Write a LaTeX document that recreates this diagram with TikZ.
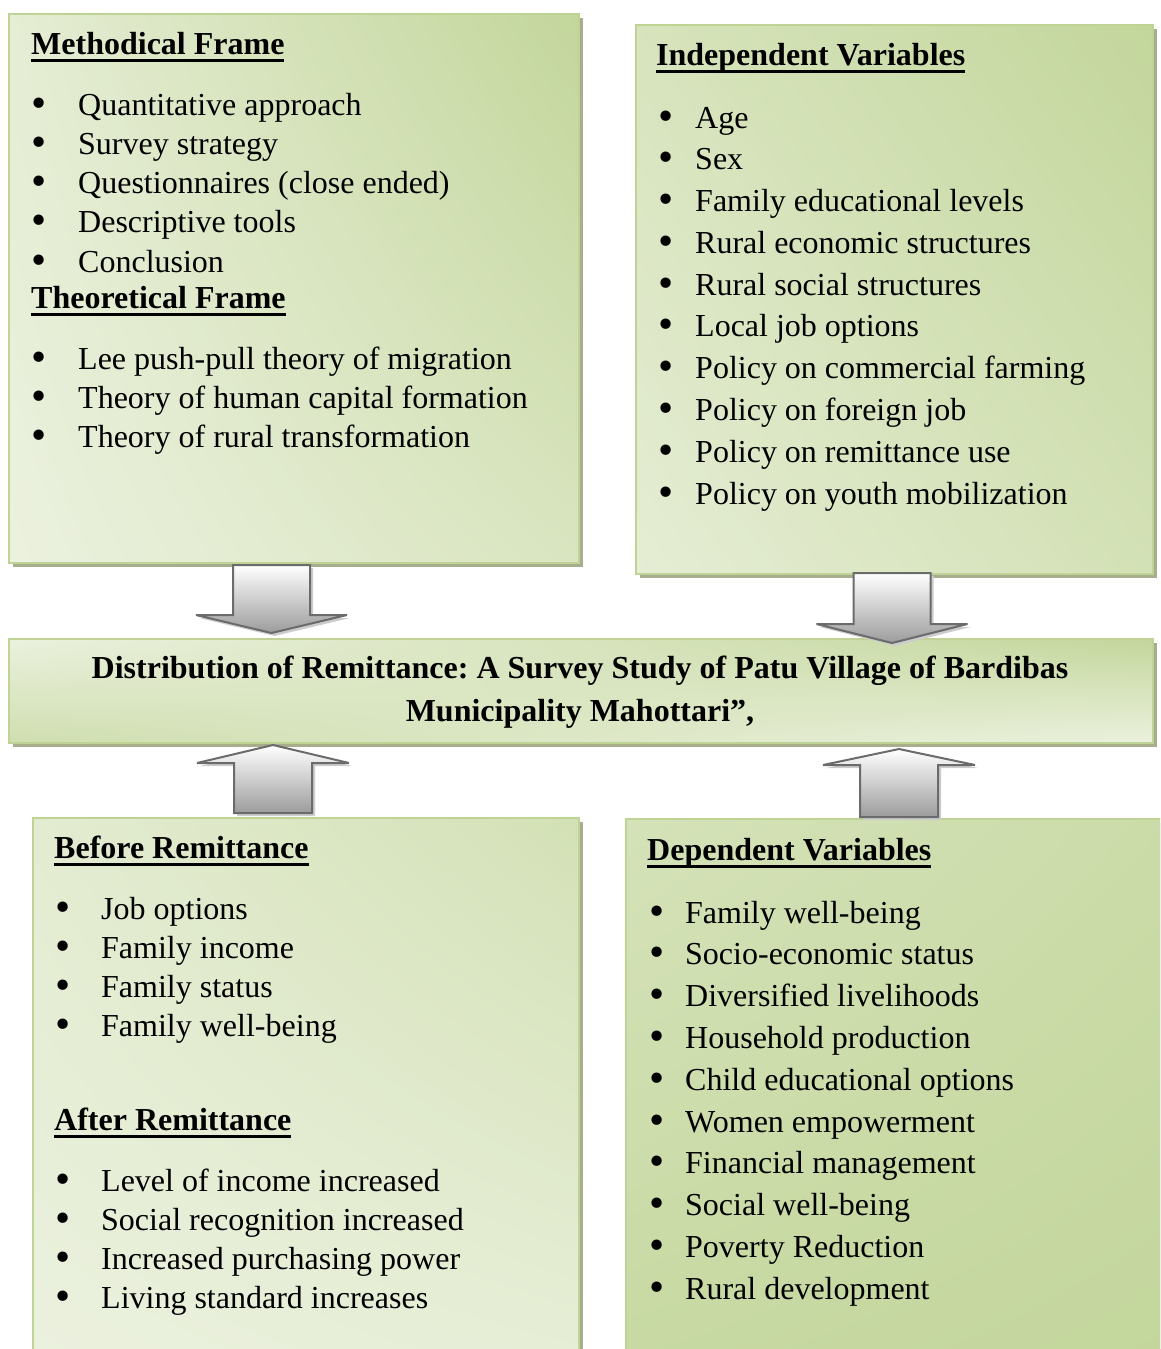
\documentclass[tikz,border=0pt]{standalone}
\usepackage{fontspec}
\usepackage{graphicx}
\setmainfont{Liberation Serif}
\usetikzlibrary{shadows,shadings}

\definecolor{gLight}{HTML}{EBF1DE}
\definecolor{gDark}{HTML}{C3D69B}
\definecolor{boxedge}{HTML}{BFD395}
\definecolor{boxshade}{HTML}{A6AE8E}
\definecolor{arrowedge}{HTML}{6B6B6B}
\definecolor{arrowgray}{HTML}{9C9C9C}

\newcommand{\bodyfont}{\fontsize{32}{39}\selectfont}
% heading with a heavy underline
\newcommand{\hul}[1]{\setbox0\hbox{#1}\rlap{\rule[-8pt]{\wd0}{2.8pt}}\box0}
% bullet followed by a fixed gap
\newcommand{\bul}[1]{\makebox[#1][l]{\raisebox{-2pt}{\scalebox{1.35}{\textbullet}}}}

\tikzset{
  x=1pt, y=-1pt,
  panel/.style={draw=boxedge, line width=1.5pt, inner sep=0pt, anchor=north west,
    drop shadow={shadow xshift=4pt, shadow yshift=-4pt, fill=boxshade, opacity=1}},
  entry/.style={anchor=base west, inner sep=0pt, font=\bodyfont},
  heading/.style={anchor=base west, inner sep=0pt, font=\bodyfont\bfseries},
  blockarrow/.style={draw=arrowedge, line width=2pt, line join=miter, miter limit=2,
    top color=white, bottom color=arrowgray},
  arrowshadow/.style={fill=black!20},
}

% block arrow pointing down: name, centre x, shaft top, head base, tip
\newcommand{\dnarrow}[5]{%
  \coordinate (#1) at (#2,#5);
  \fill[arrowshadow, shift={(3,3)}]
    ({#2-38.5},#3) -- ({#2+38.5},#3) -- ({#2+38.5},#4) -- ({#2+75.5},#4) -- (#2,#5)
    -- ({#2-75.5},#4) -- ({#2-38.5},#4) -- cycle;
  \draw[blockarrow]
    ({#2-38.5},#3) -- ({#2+38.5},#3) -- ({#2+38.5},#4) -- ({#2+75.5},#4) -- (#2,#5)
    -- ({#2-75.5},#4) -- ({#2-38.5},#4) -- cycle;}
% block arrow pointing up: name, centre x, tip, head base, shaft bottom
\newcommand{\uparr}[5]{%
  \coordinate (#1) at (#2,#3);
  \fill[arrowshadow, shift={(3,3)}]
    (#2,#3) -- ({#2+76},#4) -- ({#2+39},#4) -- ({#2+39},#5) -- ({#2-39},#5)
    -- ({#2-39},#4) -- ({#2-76},#4) -- cycle;
  \draw[blockarrow]
    (#2,#3) -- ({#2+76},#4) -- ({#2+39},#4) -- ({#2+39},#5) -- ({#2-39},#5)
    -- ({#2-39},#4) -- ({#2-76},#4) -- cycle;}

\begin{document}
\frenchspacing
\begin{tikzpicture}
\useasboundingbox (0,0) rectangle (1160,1349);
\clip (0,0) rectangle (1160,1349);

% ---------- panels ----------
\node[panel, minimum width=570pt, minimum height=549pt,
  upper left=gLight!85!gDark, upper right=gDark, lower left=gLight, lower right=gLight!55!gDark]
  (mf) at (8,13) {};
\node[panel, minimum width=517pt, minimum height=549pt,
  upper left=gLight!50!gDark, upper right=gDark, lower left=gLight!85!gDark, lower right=gLight!40!gDark]
  (iv) at (635,24) {};
\node[panel, minimum width=1144pt, minimum height=104pt,
  upper left=gLight, lower left=gLight!30!gDark, upper right=gDark, lower right=gLight]
  (ct) at (8,638) {};
\node[panel, minimum width=546pt, minimum height=560pt,
  upper left=gLight!80!gDark, upper right=gLight!40!gDark, lower left=gLight, lower right=gLight!90!gDark]
  (br) at (32,817) {};
\node[panel, minimum width=545pt, minimum height=560pt,
  upper left=gLight!45!gDark, upper right=gLight!20!gDark, lower left=gLight!10!gDark, lower right=gDark]
  (dv) at (625,818) {};

% ---------- methodical / theoretical frame ----------
\node[heading] (mfh) at (31,54) {\hul{Methodical Frame}};
\foreach \t [count=\i] in {Quantitative approach, Survey strategy,
    Questionnaires (close ended), Descriptive tools, Conclusion}
  \node[entry] (mf\i) at (31.5,{115+39.25*(\i-1)}) {\bul{46.5pt}\t};
\node[heading] (tfh) at (31,308) {\hul{Theoretical Frame}};
\foreach \t [count=\i] in {Lee push-pull theory of migration,
    Theory of human capital formation, Theory of rural transformation}
  \node[entry] (tf\i) at (31.5,{369+39.25*(\i-1)}) {\bul{46.5pt}\t};

% ---------- independent variables ----------
\node[heading] (ivh) at (656,65) {\hul{Independent Variables}};
\foreach \t [count=\i] in {Age, Sex, Family educational levels,
    Rural economic structures, Rural social structures, Local job options,
    Policy on commercial farming, Policy on foreign job,
    Policy on remittance use, Policy on youth mobilization}
  \node[entry] (iv\i) at (658.5,{128+41.78*(\i-1)}) {\bul{36.5pt}\t};

% ---------- study title ----------
\node[inner sep=0pt, align=center, font=\fontsize{32}{43}\selectfont\bfseries]
  (title) at (580,692)
  {Distribution of Remittance: A Survey Study of Patu Village of Bardibas\\
   Municipality Mahottari”,};

% ---------- before / after remittance ----------
\node[heading] (brh) at (54,858) {\hul{Before Remittance}};
\foreach \t [count=\i] in {Job options, Family income, Family status, Family well-being}
  \node[entry] (br\i) at (55.5,{919+39.1*(\i-1)}) {\bul{45.5pt}\t};
\node[heading] (arh) at (54,1130) {\hul{After Remittance}};
\foreach \t [count=\i] in {Level of income increased, Social recognition increased,
    Increased purchasing power, Living standard increases}
  \node[entry] (ar\i) at (55.5,{1191+39.3*(\i-1)}) {\bul{45.5pt}\t};

% ---------- dependent variables ----------
\node[heading] (dvh) at (647,860) {\hul{Dependent Variables}};
\foreach \t [count=\i] in {Family well-being, Socio-economic status,
    Diversified livelihoods, Household production, Child educational options,
    Women empowerment, Financial management, Social well-being,
    Poverty Reduction, Rural development}
  \node[entry] (dv\i) at (649.5,{923+41.8*(\i-1)}) {\bul{35.5pt}\t};

% ---------- block arrows between panels ----------
\dnarrow{mfTip}{271.5}{565}{615}{633}
\dnarrow{ivTip}{892}{573}{624}{643}
\uparr{brTip}{273}{745}{763}{813}
\uparr{dvTip}{899}{749}{765}{817}
\end{tikzpicture}
\end{document}
